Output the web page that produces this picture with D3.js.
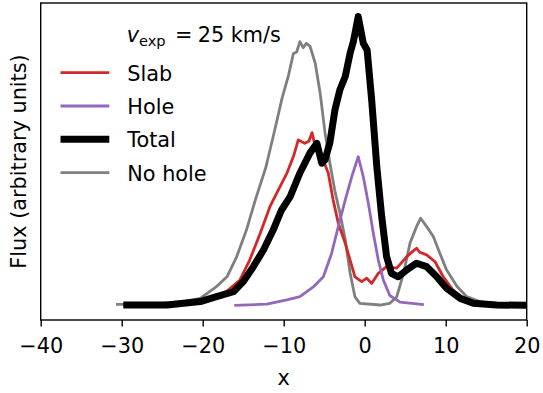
<!DOCTYPE html>
<html><head><meta charset="utf-8">
<script src="https://cdn.jsdelivr.net/npm/d3@7"></script>
<style>
html,body{margin:0;padding:0;background:#fff;}
text{font-family:"DejaVu Sans",sans-serif;}
</style></head>
<body><svg id="c" width="543" height="393"></svg>
<script>
// ---- data ----
const xTicks = [-40, -30, -20, -10, 0, 10, 20];
const seriesNames = ["Slab", "Hole", "Total", "No hole"];
const seriesColors = ["#d62728", "#9467bd", "#000000", "#7f7f7f"];

const noHoleX = [-30.7,-26.5,-22.4,-20.3,-18.3,-17.0,-15.8,-14.6,-13.5,-12.2,-11.1,-10.2,-9.4,-8.8,-8.4,-8.0,-7.6,-7.2,-6.75,-6.1,-5.5,-4.9,-4.3,-3.7,-3.05,-2.4,-1.8,-1.2,-0.6,1.9,3.1,3.95,4.8,5.6,6.4,6.9,7.65,8.47,9.3,10.1,11.4,12.6,14.2,16,20];
const noHoleY = [0.004,0.005,0.014,0.025,0.066,0.10,0.17,0.262,0.367,0.48,0.61,0.72,0.80,0.875,0.88,0.916,0.895,0.91,0.9,0.84,0.737,0.6,0.495,0.40,0.32,0.228,0.113,0.03,0.008,0.002,0.008,0.03,0.113,0.217,0.274,0.303,0.274,0.24,0.18,0.124,0.066,0.031,0.014,0.004,0.002];

const slabX = [-29.8,-24.4,-20.3,-18.3,-17.0,-15.4,-14.2,-12.9,-11.7,-10.5,-9.6,-8.8,-8.2,-7.4,-6.9,-6.5,-6.1,-5.3,-4.5,-3.9,-3.26,-2.4,-1.8,-1.2,-0.37,0.25,0.86,1.68,2.7,3.95,5.2,6.0,6.4,6.8,7.65,8.68,9.7,10.9,12.2,14,16,20];
const slabY = [0.002,0.003,0.016,0.035,0.05,0.089,0.158,0.251,0.343,0.41,0.46,0.517,0.575,0.563,0.57,0.6,0.55,0.517,0.46,0.367,0.286,0.216,0.158,0.10,0.083,0.095,0.077,0.112,0.135,0.13,0.17,0.19,0.199,0.185,0.176,0.152,0.10,0.054,0.025,0.006,0.002,0.001];

const holeX = [-16.1,-12.1,-9.6,-8.0,-6.3,-5.1,-4.1,-3.26,-2.4,-1.6,-0.8,-0.17,0.45,1.07,1.68,2.3,3.1,4.36,7.3];
const holeY = [0.001,0.005,0.02,0.031,0.066,0.10,0.18,0.274,0.367,0.447,0.517,0.447,0.355,0.25,0.158,0.089,0.035,0.012,0.003];

const totalX = [-29.8,-24.4,-20.3,-18.3,-16.2,-15.0,-13.75,-12.5,-11.3,-10.3,-9.2,-8.0,-6.75,-5.9,-5.3,-4.9,-4.3,-3.67,-3.05,-2.4,-1.8,-1.4,-0.8,-0.17,0.3,0.86,1.5,2.1,2.7,3.3,4.15,5.2,6.4,7.65,8.9,10.1,11.8,13.4,16.3,20];
const totalY = [0.002,0.002,0.014,0.031,0.048,0.083,0.135,0.193,0.262,0.33,0.378,0.46,0.53,0.563,0.494,0.506,0.565,0.68,0.75,0.795,0.876,0.916,1.003,0.91,0.887,0.714,0.48,0.309,0.17,0.112,0.10,0.124,0.147,0.135,0.10,0.06,0.025,0.008,0.002,0.001];

// ---- layout ----
const svg = d3.select("#c");
const L = 40.7, R = 526.7, T = 3, B = 320;
const x = d3.scaleLinear().domain([-40, 20]).range([L, R]);
const y = d3.scaleLinear().domain([-0.05, 1.05]).range([B, T]);

svg.append("clipPath").attr("id","clp").append("rect")
  .attr("x", L).attr("y", T).attr("width", R-L).attr("height", B-T);

const line = d3.line().x(d => x(d[0])).y(d => y(d[1]));
const zip = (a, b) => a.map((v, i) => [v, b[i]]);

const g = svg.append("g").attr("clip-path", "url(#clp)");
const draws = [
  {xs: noHoleX, ys: noHoleY, c: seriesColors[3], w: 2.8},
  {xs: slabX, ys: slabY, c: seriesColors[0], w: 2.8},
  {xs: holeX, ys: holeY, c: seriesColors[1], w: 2.8},
  {xs: totalX, ys: totalY, c: seriesColors[2], w: 7}
];
draws.forEach(s => {
  g.append("path").attr("d", line(zip(s.xs, s.ys)))
    .attr("fill", "none").attr("stroke", s.c).attr("stroke-width", s.w)
    .attr("stroke-linejoin", "round");
});

// frame
svg.append("rect").attr("x", L).attr("y", T).attr("width", R-L).attr("height", B-T)
  .attr("fill", "none").attr("stroke", "#000").attr("stroke-width", 1.4);

// x axis
const ax = svg.append("g").attr("transform", `translate(0,${B})`)
  .call(d3.axisBottom(x).tickValues(xTicks).tickSize(6.5).tickPadding(12).tickSizeOuter(0));
ax.select(".domain").remove();
ax.selectAll("line").attr("stroke-width", 1.4);
ax.selectAll("text").attr("font-size", 20.8).attr("fill", "#000")
  .style("font-family", "DejaVu Sans");

// axis labels
svg.append("text").attr("x", (L+R)/2).attr("y", 385).attr("text-anchor", "middle")
  .attr("font-size", 20.8).text("x");
svg.append("text").attr("transform", `translate(26,${(T+B)/2}) rotate(-90)`)
  .attr("text-anchor", "middle").attr("font-size", 20.8).text("Flux (arbitrary units)");

// legend
const leg = svg.append("g");
const title = leg.append("text").attr("x", 126.7).attr("y", 41.5).attr("font-size", 20.8);
title.append("tspan").attr("font-style", "italic").text("v");
title.append("tspan").attr("font-size", 14.6).attr("dy", 4.5).text("exp");
leg.append("text").attr("x", 175).attr("y", 41.5).attr("font-size", 20.8).text("=");
leg.append("text").attr("x", 197.7).attr("y", 41.5).attr("font-size", 20.8).text("25 km/s");

const legY = [72.7, 106, 139.3, 172.7];
const legW = [2.8, 2.8, 7, 2.8];
seriesNames.forEach((n, i) => {
  leg.append("line").attr("x1", 60.5).attr("x2", 109.3).attr("y1", legY[i]).attr("y2", legY[i])
    .attr("stroke", seriesColors[i]).attr("stroke-width", legW[i]);
  leg.append("text").attr("x", 127.3).attr("y", legY[i] + 7.8).attr("font-size", 20.8).text(n);
});
</script></body></html>
